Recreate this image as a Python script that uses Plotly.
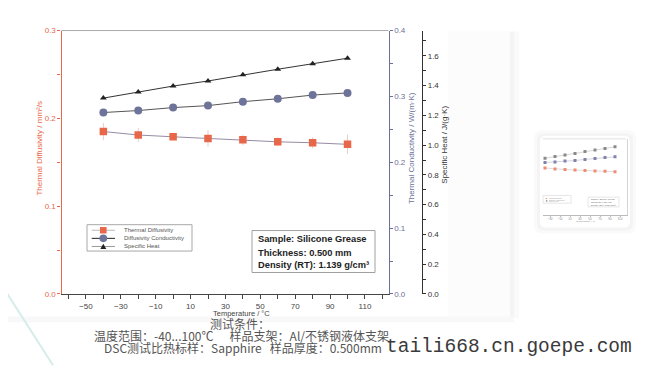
import plotly.graph_objects as go

W, H = 655, 370
OFF = 8  # page body margin of the browser
def px(x): return (x - OFF) / W
def py(y): return 1 - (y - OFF) / H

# ---------------- data ----------------
temperature = [-40, -20, 0, 20, 40, 60, 80, 100]
diffusivity = [0.185, 0.181, 0.179, 0.177, 0.1755, 0.1733, 0.1722, 0.1704]
diffusivity_err = [0.010, 0.008, 0.004, 0.009, 0.006, 0.005, 0.0063, 0.011]
conductivity = [0.2755, 0.2785, 0.283, 0.286, 0.292, 0.2964, 0.302, 0.3053]
specific_heat = [1.316, 1.357, 1.397, 1.431, 1.473, 1.510, 1.547, 1.584]

x_ticks = [-50, -30, -10, 10, 30, 50, 70, 90, 110]
series_names = ["Thermal Diffusivity", "Diffusivity Conductivity", "Specific Heat"]
box_lines = ["Sample: Silicone Grease", "Thickness: 0.500 mm", "Density (RT): 1.139 g/cm³"]
note_title = "测试条件："
note_line1 = "温度范围：-40...100℃      样品支架：Al/不锈钢液体支架"
note_line2 = "DSC测试比热标样：Sapphire   样品厚度：0.500mm"
watermark = "taili668.cn.goepe.com"

C_D = "#e8674a"
C_K = "#6b7097"
C_CP = "#333333"
FONT = "Liberation Sans, Arial, sans-serif"

fig = go.Figure()

# ---------------- main chart traces ----------------
fig.add_trace(go.Scatter(
    x=temperature, y=diffusivity, mode="lines+markers", name=series_names[0],
    line=dict(color="#958ba3", width=1),
    marker=dict(symbol="square", size=7.5, color=C_D),
    error_y=dict(type="data", array=diffusivity_err, color="#e5cfca", thickness=1, width=0),
    xaxis="x", yaxis="y", showlegend=False))
fig.add_trace(go.Scatter(
    x=temperature, y=conductivity, mode="lines+markers", name=series_names[1],
    line=dict(color="#555555", width=1),
    marker=dict(symbol="circle", size=8, color="#6e7399"),
    xaxis="x", yaxis="y2", showlegend=False))
fig.add_trace(go.Scatter(
    x=temperature, y=specific_heat, mode="lines+markers", name=series_names[2],
    line=dict(color="#333333", width=1),
    marker=dict(symbol="triangle-up", size=6, color="#222222"),
    xaxis="x", yaxis="y3", showlegend=False))

# ---------------- thumbnail traces ----------------
fig.add_trace(go.Scatter(
    x=temperature, y=diffusivity, mode="lines+markers",
    line=dict(color="#c8c2cf", width=0.6),
    marker=dict(symbol="square", size=3, color="#f08d70"),
    xaxis="x2", yaxis="y4", showlegend=False, hoverinfo="skip"))
fig.add_trace(go.Scatter(
    x=temperature, y=conductivity, mode="lines+markers",
    line=dict(color="#b9b9c4", width=0.6),
    marker=dict(symbol="square", size=3, color="#7f82aa"),
    xaxis="x2", yaxis="y5", showlegend=False, hoverinfo="skip"))
fig.add_trace(go.Scatter(
    x=temperature, y=specific_heat, mode="lines+markers",
    line=dict(color="#bdbdbd", width=0.6),
    marker=dict(symbol="square", size=3, color="#8a8a8a"),
    xaxis="x2", yaxis="y6", showlegend=False, hoverinfo="skip"))

dom_x = [px(61.5), px(388.5)]
dom_y = [py(297), py(27)]

fig.update_layout(
    width=W, height=H, margin=dict(l=0, r=0, t=0, b=0),
    paper_bgcolor="white", plot_bgcolor="rgba(0,0,0,0)",
    font=dict(family=FONT),
    xaxis=dict(domain=dom_x, range=[-64, 123.5], anchor="y",
               tickvals=x_ticks, ticks="outside", ticklen=4, tickcolor="#444",
               minor=dict(dtick=10, tick0=0, ticks="outside", ticklen=4, tickcolor="#444"),
               showline=True, linecolor="#444", linewidth=1.2, showgrid=False, zeroline=False,
               ticklabelstandoff=0,
               tickfont=dict(family=FONT, size=8, color="#444")),
    yaxis=dict(domain=dom_y, range=[0, 0.3], anchor="x", dtick=0.1, tickformat=".1f",
               ticks="outside", ticklen=3, tickcolor=C_D,
               minor=dict(dtick=0.05, ticks="outside", ticklen=3, tickcolor=C_D),
               showline=True, linecolor=C_D, linewidth=1.2, showgrid=False, zeroline=False,
               tickfont=dict(family=FONT, size=8, color=C_D)),
    yaxis2=dict(overlaying="y", side="right", anchor="x", range=[0, 0.4], dtick=0.1, tickformat=".1f",
                ticks="outside", ticklen=3, tickcolor=C_K,
                minor=dict(dtick=0.05, ticks="outside", ticklen=3, tickcolor=C_K),
                showline=True, linecolor=C_K, linewidth=1.2, showgrid=False, zeroline=False,
                tickfont=dict(family=FONT, size=8, color=C_K)),
    yaxis3=dict(overlaying="y", side="right", anchor="free", position=px(422), range=[0, 1.77],
                dtick=0.2, tickformat=".1f",
                ticks="outside", ticklen=3, tickcolor=C_CP,
                minor=dict(dtick=0.1, ticks="outside", ticklen=3, tickcolor=C_CP),
                showline=True, linecolor=C_CP, linewidth=1.2, showgrid=False, zeroline=False,
                tickfont=dict(family=FONT, size=8, color=C_CP)),
    # thumbnail axes
    xaxis2=dict(domain=[px(543), px(627)], range=[-44, 124], anchor="y4",
                tickvals=x_ticks[1:], ticks="outside", ticklen=1, tickcolor="#bbb",
                showline=True, linecolor="#bbb", linewidth=0.6, showgrid=False, zeroline=False,
                tickfont=dict(family=FONT, size=3, color="#888")),
    yaxis4=dict(domain=[py(216), py(138)], range=[0, 0.3], anchor="x2", visible=False),
    yaxis5=dict(overlaying="y4", side="right", anchor="x2", range=[0, 0.4],
                showline=True, linecolor="#d4d4dc", linewidth=0.6, showticklabels=False,
                ticks="", showgrid=False, zeroline=False),
    yaxis6=dict(overlaying="y4", anchor="x2", range=[0, 1.77], visible=False),
)

shapes = []
def rect(x0, y0, x1, y1, **kw):
    d = dict(type="rect", xref="paper", yref="paper", x0=px(x0), x1=px(x1), y0=py(y1), y1=py(y0))
    d.update(kw)
    shapes.append(d)
def line(x0, y0, x1, y1, color, width=1, layer="above", dash="solid"):
    shapes.append(dict(type="line", xref="paper", yref="paper", x0=px(x0), x1=px(x1),
                       y0=py(y0), y1=py(y1), line=dict(color=color, width=width, dash=dash), layer=layer))
def rounded(x0, y0, x1, y1, r, fill, layer="below"):
    p = (f"M {px(x0+r)},{py(y0)} L {px(x1-r)},{py(y0)} Q {px(x1)},{py(y0)} {px(x1)},{py(y0+r)} "
         f"L {px(x1)},{py(y1-r)} Q {px(x1)},{py(y1)} {px(x1-r)},{py(y1)} "
         f"L {px(x0+r)},{py(y1)} Q {px(x0)},{py(y1)} {px(x0)},{py(y1-r)} "
         f"L {px(x0)},{py(y0+r)} Q {px(x0)},{py(y0)} {px(x0+r)},{py(y0)} Z")
    shapes.append(dict(type="path", xref="paper", yref="paper", path=p, fillcolor=fill,
                       line=dict(width=0), layer=layer))

# panel shadow / background hints
rect(448, 28, 510, 320, fillcolor="#fcfcfc", line=dict(width=0), layer="below")
rect(510, 28, 514, 322, fillcolor="#f4f4f4", line=dict(width=0), layer="below")
rect(514, 28, 519, 322, fillcolor="#fafafa", line=dict(width=0), layer="below")
rect(0, 320, 514, 326, fillcolor="#f8f8f8", line=dict(width=0), layer="below")
# teal decoration
line(0, 285, 53, 370, "#d6ecea", 2, layer="below")

# top spine of main plot
line(61.5, 27, 388.5, 27, "#aaaaaa", 1)

# main legend (manual)
rect(87, 226, 192, 253, fillcolor="white", line=dict(color="#a8a8a8", width=1), layer="above")
leg_y = [231.7, 240.0, 248.3]
leg_line_colors = ["#bbbbbb", "#222222", "#999999"]
for yy, cc in zip(leg_y, leg_line_colors):
    line(91.7, yy, 115, yy, cc, 1)
rect(100, leg_y[0] - 3.3, 106.6, leg_y[0] + 3.3, fillcolor=C_D, line=dict(width=0), layer="above")
shapes.append(dict(type="circle", xref="paper", yref="paper", x0=px(99.4), x1=px(107.2),
                   y0=py(leg_y[1] + 3.9), y1=py(leg_y[1] - 3.9), fillcolor="#6e7399",
                   line=dict(width=0), layer="above"))
ty = leg_y[2]
shapes.append(dict(type="path", xref="paper", yref="paper",
                   path=f"M {px(100.3)},{py(ty+2.6)} L {px(106.3)},{py(ty+2.6)} L {px(103.3)},{py(ty-2.8)} Z",
                   fillcolor="#222222", line=dict(width=0), layer="above"))

# sample info box
rect(252, 232, 375, 275, fillcolor="white", line=dict(color="#a0a0a0", width=1), layer="above")

# thumbnail card
rounded(534, 129, 636, 235, 8, "rgba(0,0,0,0.018)")
rounded(537, 132, 633, 232, 7, "rgba(0,0,0,0.025)")
rounded(540, 135, 630, 229, 6, "white")
line(543, 138, 626, 138, "#cfcfcf", 0.6)
rect(543, 196, 571, 204, fillcolor="white", line=dict(color="#cccccc", width=0.5), layer="above")
rect(588, 197.7, 619, 207.7, fillcolor="white", line=dict(color="#cccccc", width=0.5), layer="above")

fig.update_layout(shapes=shapes)

ann = []
def text(x, y, s, size, color, xanchor="left", family=FONT, angle=0, bold=False):
    ann.append(dict(x=px(x), y=py(y), xref="paper", yref="paper", text=(f"<b>{s}</b>" if bold else s),
                    showarrow=False, xanchor=xanchor, yanchor="middle", textangle=angle,
                    borderpad=0,
                    font=dict(family=family, size=size, color=color)))

# axis titles
text(241, 317.5, "Temperature / °C", 7.5, "#444", xanchor="center")
text(40, 148, "Thermal Diffusivity / mm²/s", 8, C_D, xanchor="center", angle=-90)
text(411.5, 148, "Thermal Conductivity / W/(m·K)", 8, C_K, xanchor="center", angle=-90)
text(445, 144, "Specific Heat / J/(g·K)", 8, C_CP, xanchor="center", angle=-90)

# legend text
for yy, name in zip(leg_y, series_names):
    text(122.7, yy, name, 6, "#555")

# box text
for yy, s in zip([241, 254.5, 267.5], box_lines):
    text(256.5, yy, s, 9.3, "#222", bold=True)

# thumbnail small texts
for i, (yy, cc) in enumerate(zip([198.2, 200.2, 202.2], [C_D, "#7f82aa", "#888"])):
    text(545, yy, "■", 2, cc)
    text(548, yy, series_names[i], 1.6, "#999")
for yy, s in zip([200, 202.8, 205.6], box_lines):
    text(589.5, yy, s, 2.2, "#666")
text(585, 222.5, "Temperature / °C", 2.5, "#888", xanchor="center")

# bottom notes
CJK = "Noto Sans CJK SC, Noto Sans, sans-serif"
text(240, 327.5, note_title, 12, "#555", xanchor="center", family=CJK)
text(93, 339.5, note_line1, 12, "#555", family=CJK)
text(103, 351.5, note_line2, 12, "#555", family=CJK)
text(385, 351.5, watermark, 19.5, "#3a3a3a", family="Liberation Mono, DejaVu Sans Mono, monospace")

fig.update_layout(annotations=ann)
fig.write_html("out.html")
